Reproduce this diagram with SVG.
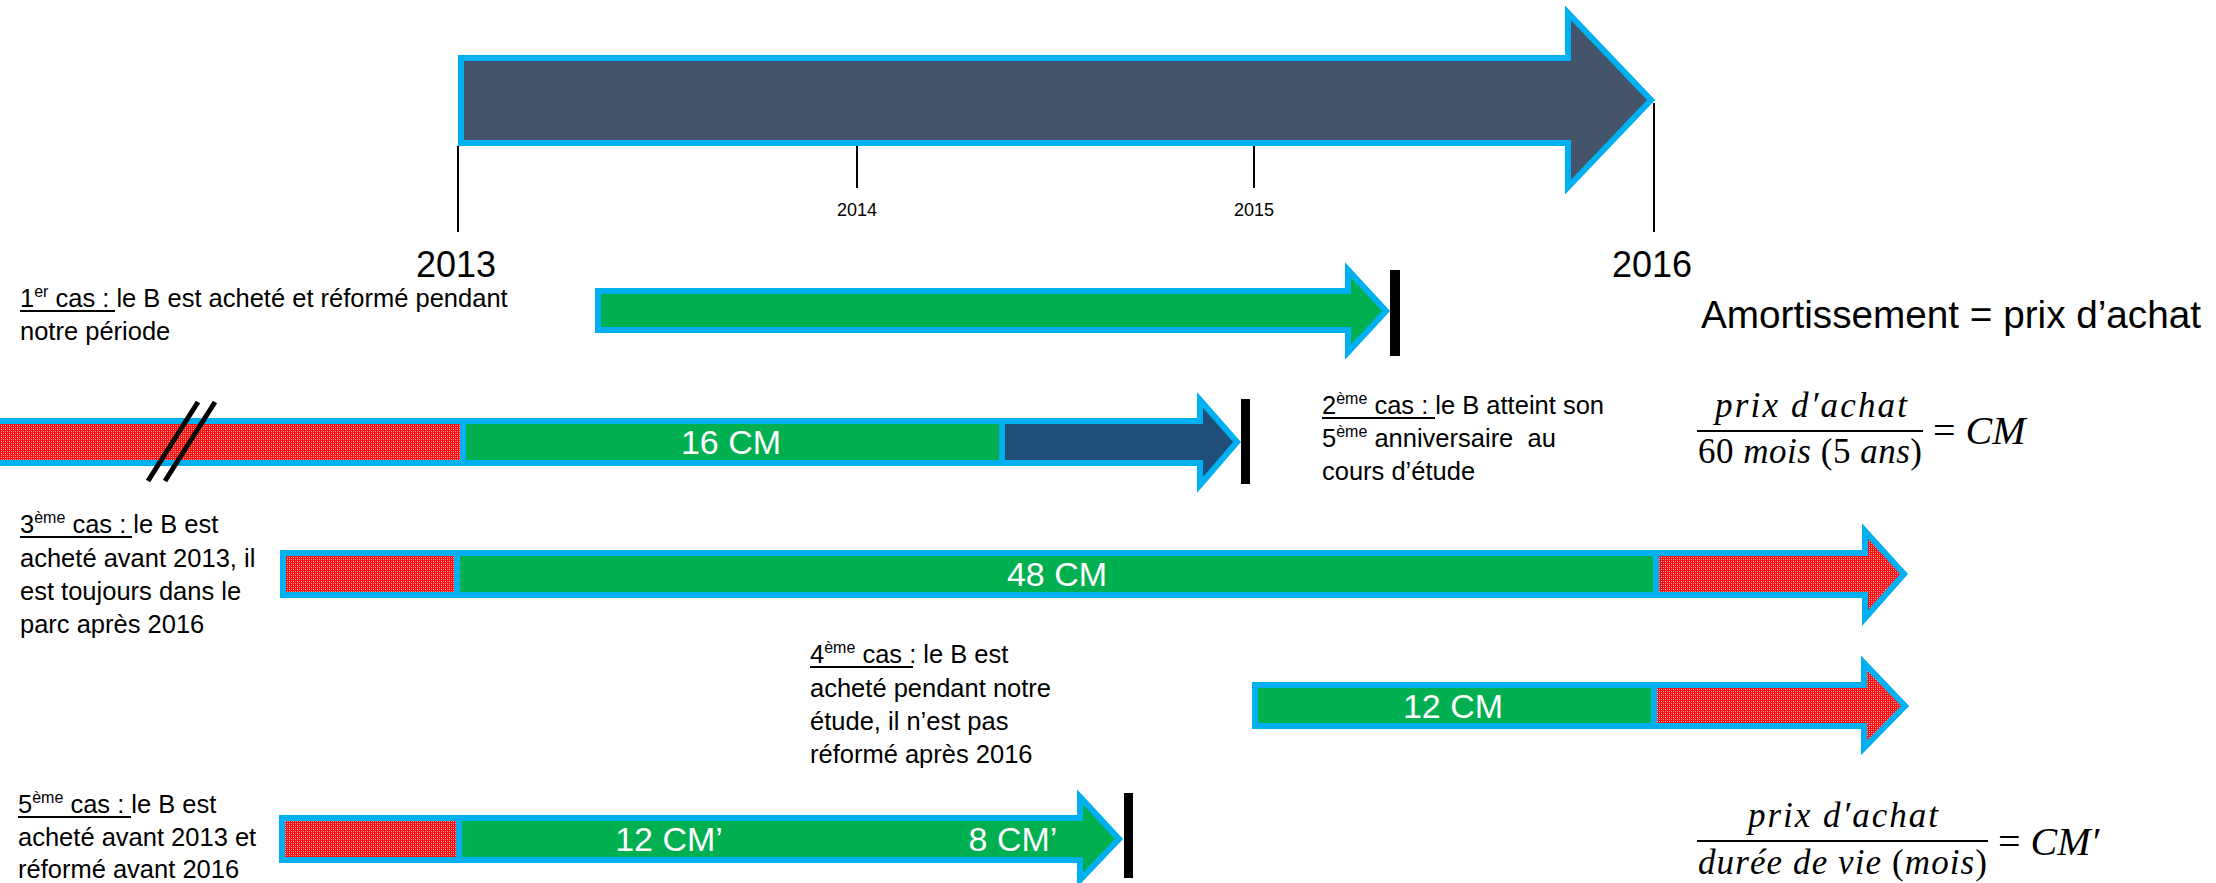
<svg xmlns="http://www.w3.org/2000/svg" width="2216" height="883" viewBox="0 0 2216 883">
<defs>
<pattern id="hatch" width="4" height="4" patternUnits="userSpaceOnUse">
<rect width="4" height="4" fill="#ff1010"/>
<rect x="1" y="1" width="1" height="1" fill="#ffc0c0"/>
<rect x="3" y="3" width="1" height="1" fill="#ffa0a0"/>
<rect x="3" y="1" width="1" height="1" fill="#ff7070"/>
<rect x="1" y="3" width="1" height="1" fill="#ff8080"/>
</pattern>
<style>
.seg{stroke:#00B0F0;stroke-width:6;stroke-linejoin:miter}
.red{fill:url(#hatch)}
.green{fill:#00B050}
.t{font-family:"Liberation Sans",Arial,sans-serif;font-size:25.5px;fill:#000}
.sup{font-size:16px}
.ul{stroke:#000;stroke-width:2}
.lbl{font-family:"Liberation Sans",Arial,sans-serif;font-size:34px;fill:#fff;text-anchor:middle}
.yr{font-family:"Liberation Sans",Arial,sans-serif;fill:#000;text-anchor:middle}
.tick{stroke:#000;stroke-width:2}
.bar{fill:#000}
.m{font-family:"Liberation Serif","Times New Roman",serif;font-style:italic;fill:#000}
.up{font-style:normal}
</style>
</defs>

<g id="timeline">
<path class="seg" d="M461,58 H1568 V13 L1651,100 L1568,187 V143 H461 Z" fill="#44546A"/>
<line class="tick" x1="458" y1="146" x2="458" y2="232"/>
<line class="tick" x1="857" y1="146" x2="857" y2="188"/>
<line class="tick" x1="1254" y1="146" x2="1254" y2="188"/>
<line class="tick" x1="1654" y1="103" x2="1654" y2="232"/>
<text class="yr" x="857" y="216" font-size="18">2014</text>
<text class="yr" x="1254" y="216" font-size="18">2015</text>
<text class="yr" x="456" y="277" font-size="36">2013</text>
<text class="yr" x="1652" y="277" font-size="36">2016</text>
</g>

<g id="case1-text">
<text class="t" x="20" y="307">1<tspan class="sup" dy="-10">er</tspan><tspan dy="10"> cas : le B est acheté et réformé pendant</tspan></text>
<text class="t" x="20" y="340">notre période</text>
<line class="ul" x1="20" y1="311" x2="115" y2="311"/>
</g>

<g id="case1-arrow">
<path class="seg green" d="M598,291 H1348 V270 L1386,311 L1348,352 V330 H598 Z"/>
<rect class="bar" x="1390" y="270" width="10" height="86"/>
</g>

<g id="case2-arrow">
<rect class="seg red" x="-10" y="421" width="473" height="42"/>
<rect class="seg green" x="463" y="421" width="539" height="42"/>
<path class="seg" fill="#1F4E79" d="M1002,421 H1200 V400 L1237,442 L1200,485 V463 H1002 Z"/>
<text class="lbl" x="731" y="454">16 CM</text>
<line x1="198" y1="402" x2="148" y2="481" stroke="#000" stroke-width="5"/>
<line x1="215" y1="402" x2="165" y2="481" stroke="#000" stroke-width="5"/>
<rect class="bar" x="1241" y="399" width="9" height="85"/>
</g>

<g id="case2-text">
<text class="t" x="1322" y="414">2<tspan class="sup" dy="-10">ème</tspan><tspan dy="10"> cas : le B atteint son</tspan></text>
<text class="t" x="1322" y="447">5<tspan class="sup" dy="-10">ème</tspan><tspan dy="10"> anniversaire &#160;au</tspan></text>
<text class="t" x="1322" y="480">cours d’étude</text>
<line class="ul" x1="1322" y1="418" x2="1435" y2="418"/>
</g>

<g id="amortissement">
<text x="1701" y="328" font-family="Liberation Sans, Arial, sans-serif" font-size="38" textLength="500" lengthAdjust="spacingAndGlyphs">Amortissement = prix d’achat</text>
</g>

<g id="formula-cm">
<text class="m" x="1715" y="417" font-size="35" textLength="192" lengthAdjust="spacing">prix d′achat</text>
<line x1="1697" y1="431" x2="1923" y2="431" stroke="#000" stroke-width="2"/>
<text class="m" x="1698" y="463" font-size="35" textLength="224" lengthAdjust="spacing"><tspan class="up">60</tspan> mois <tspan class="up">(5</tspan> ans<tspan class="up">)</tspan></text>
<text class="m" x="1933" y="444" font-size="40"><tspan class="up">=</tspan> CM</text>
</g>

<g id="case3-text">
<text class="t" x="20" y="533">3<tspan class="sup" dy="-10">ème</tspan><tspan dy="10"> cas : le B est</tspan></text>
<text class="t" x="20" y="567">acheté avant 2013, il</text>
<text class="t" x="20" y="600">est toujours dans le</text>
<text class="t" x="20" y="633">parc après 2016</text>
<line class="ul" x1="20" y1="537" x2="132" y2="537"/>
</g>

<g id="case3-arrow">
<rect class="seg red" x="283" y="553" width="174" height="42"/>
<rect class="seg green" x="457" y="553" width="1199" height="42"/>
<path class="seg red" d="M1656,553 H1865 V531 L1904,574 L1865,618 V595 H1656 Z"/>
<text class="lbl" x="1057" y="586">48 CM</text>
</g>

<g id="case4-text">
<text class="t" x="810" y="663">4<tspan class="sup" dy="-10">ème</tspan><tspan dy="10"> cas : le B est</tspan></text>
<text class="t" x="810" y="697">acheté pendant notre</text>
<text class="t" x="810" y="730">étude, il n’est pas</text>
<text class="t" x="810" y="763">réformé après 2016</text>
<line class="ul" x1="810" y1="667" x2="913" y2="667"/>
</g>

<g id="case4-arrow">
<rect class="seg green" x="1255" y="685" width="399" height="41"/>
<path class="seg red" d="M1654,685 H1864 V663 L1905,706 L1864,748 V726 H1654 Z"/>
<text class="lbl" x="1453" y="718">12 CM</text>
</g>

<g id="case5-text">
<text class="t" x="18" y="813">5<tspan class="sup" dy="-10">ème</tspan><tspan dy="10"> cas : le B est</tspan></text>
<text class="t" x="18" y="846">acheté avant 2013 et</text>
<text class="t" x="18" y="878">réformé avant 2016</text>
<line class="ul" x1="18" y1="817" x2="131" y2="817"/>
</g>

<g id="case5-arrow">
<rect class="seg red" x="282" y="818" width="177" height="42"/>
<path class="seg green" d="M459,818 H1080 V797 L1119,839 L1080,880 V860 H459 Z"/>
<text class="lbl" x="669" y="851">12 CM’</text>
<text class="lbl" x="1013" y="851">8 CM’</text>
<rect class="bar" x="1124" y="793" width="9" height="85"/>
</g>

<g id="formula-cmprime">
<text class="m" x="1748" y="827" font-size="35" textLength="190" lengthAdjust="spacing">prix d′achat</text>
<line x1="1697" y1="841" x2="1988" y2="841" stroke="#000" stroke-width="2"/>
<text class="m" x="1698" y="874" font-size="35" textLength="289" lengthAdjust="spacing">durée de vie <tspan class="up">(</tspan>mois<tspan class="up">)</tspan></text>
<text class="m" x="1998" y="855" font-size="40"><tspan class="up">=</tspan> CM′</text>
</g>
</svg>
